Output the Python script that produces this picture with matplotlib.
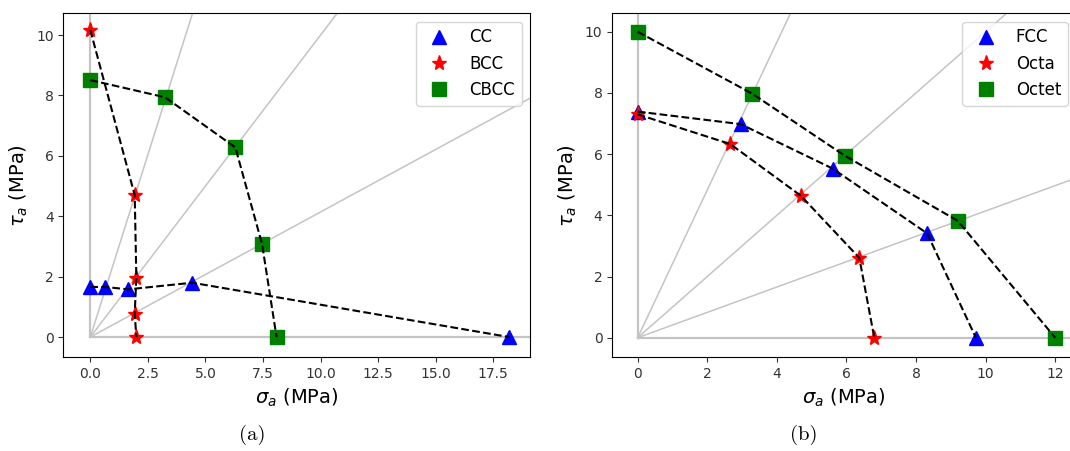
import numpy as np
import matplotlib
matplotlib.use("Agg")
from matplotlib import pyplot as plt

# (a) lattices: CC, BCC, CBCC   sigma_a, tau_a in MPa
cc_sigma = [0.0, 0.65, 1.64, 4.43, 18.2]
cc_tau = [1.66, 1.66, 1.58, 1.80, 0.0]
bcc_sigma = [0.0, 1.93, 2.0, 1.93, 2.0]
bcc_tau = [10.17, 4.70, 1.97, 0.78, 0.0]
cbcc_sigma = [0.0, 3.25, 6.3, 7.46, 8.09]
cbcc_tau = [8.51, 7.94, 6.28, 3.08, 0.0]

# (b) lattices: FCC, Octa, Octet
fcc_sigma = [0.0, 2.96, 5.6, 8.32, 9.72]
fcc_tau = [7.39, 6.98, 5.53, 3.41, 0.0]
octa_sigma = [0.0, 2.66, 4.69, 6.37, 6.8]
octa_tau = [7.30, 6.33, 4.64, 2.61, 0.0]
octet_sigma = [0.0, 3.3, 5.95, 9.2, 12.0]
octet_tau = [10.0, 7.97, 5.95, 3.82, 0.0]

ray_angles = [0.0, 22.5, 45.0, 67.5, 90.0]

fig = plt.figure(figsize=(10.70, 4.51), dpi=100)
ax_a = fig.add_axes([0.0592, 0.2084, 0.4362, 0.762])
ax_b = fig.add_axes([0.5722, 0.2084, 0.4335, 0.762])


def draw_panel(ax, groups, xlim, ylim):
    r = 100.0
    for ang in ray_angles:
        t = np.radians(ang)
        lw = 1.6 if ang in (0.0, 90.0) else 1.1
        ax.plot([0, r * np.cos(t)], [0, r * np.sin(t)], color='#c4c4c4',
                linewidth=lw, zorder=1)
    for sig, tau, mk, col, ms, lab in groups:
        ax.plot(sig, tau, linestyle='none', marker=mk, color=col,
                markersize=ms, label=lab, zorder=2)
    for sig, tau, mk, col, ms, lab in groups:
        ax.plot(sig, tau, 'k--', linewidth=1.5, zorder=3)
    ax.set_xlim(xlim)
    ax.set_ylim(ylim)
    ax.set_xlabel(r"$\sigma_a$ (MPa)", fontsize=14)
    ax.set_ylabel(r"$\tau_a$ (MPa)", fontsize=14)
    ax.tick_params(labelsize=10, colors='#333333')
    ax.legend(fontsize=12, loc='upper right')


draw_panel(ax_a,
           [(cc_sigma, cc_tau, '^', 'blue', 10, 'CC'),
            (bcc_sigma, bcc_tau, '*', 'red', 11, 'BCC'),
            (cbcc_sigma, cbcc_tau, 's', 'green', 10, 'CBCC')],
           (-1.17, 19.1), (-0.66, 10.72))
ax_a.set_xticks(np.arange(0, 17.6, 2.5))

draw_panel(ax_b,
           [(fcc_sigma, fcc_tau, '^', 'blue', 10, 'FCC'),
            (octa_sigma, octa_tau, '*', 'red', 11, 'Octa'),
            (octet_sigma, octet_tau, 's', 'green', 10, 'Octet')],
           (-0.73, 12.6), (-0.63, 10.6))

fig.text(0.2355, 0.035, "(a)", family='cmr10', fontsize=15,
         ha='center', va='center')
fig.text(0.7514, 0.035, "(b)", family='cmr10', fontsize=15,
         ha='center', va='center')

plt.savefig('out.png', dpi=100)
